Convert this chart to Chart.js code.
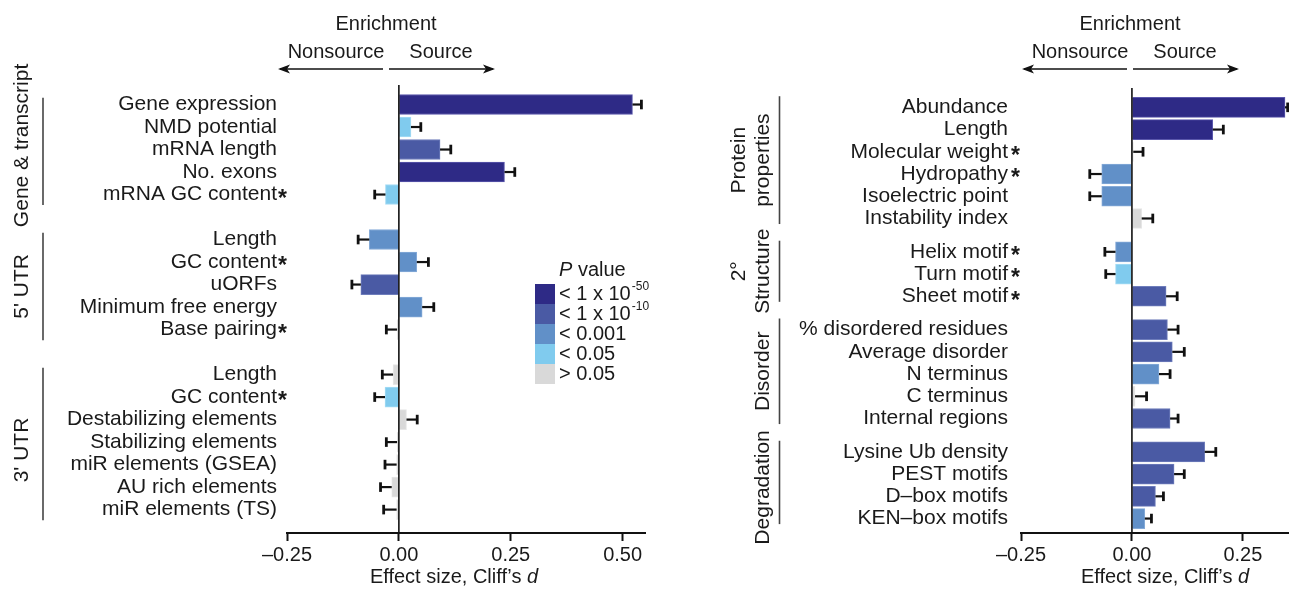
<!DOCTYPE html>
<html><head><meta charset="utf-8">
<script src="https://cdn.jsdelivr.net/npm/chart.js@4.4.1/dist/chart.umd.min.js"></script>
<style>
html,body{margin:0;padding:0;background:#fff;}
#wrap{position:relative;width:1289px;height:591px;overflow:hidden;background:#fff;}
canvas{position:absolute;top:0;}
</style></head><body>
<div id="wrap">
<canvas id="cl" width="680" height="591" style="left:0"></canvas>
<canvas id="cr" width="609" height="591" style="left:680px"></canvas>
</div>
<script>
// ---------- DATA ----------
const pColors = ['#2e2a86', '#4a5aa4', '#6190c8', '#80cbee', '#d9d9d9'];
const pEdge   = ['#5b58ac', '#6e7dbb', '#86abd8', '#a6dcf4', '#e6e6e6'];
const pLegendMain = ['< 1 x 10', '< 1 x 10', '< 0.001', '< 0.05', '> 0.05'];
const pLegendSup  = ['-50', '-10', '', '', ''];

const xTicks = [-0.25, 0, 0.25, 0.5];
const xTickLabelsLeft = ['\u20130.25', '0.00', '0.25', '0.50'];
const xTicksRight = [-0.25, 0, 0.25];
const xTickLabelsRight = ['\u20130.25', '0.00', '0.25'];

const leftGroups = [['Gene & transcript'], ["5' UTR"], ["3' UTR"]];
const leftGroupSizes = [5, 5, 7];
const leftLabels = ['Gene expression', 'NMD potential', 'mRNA length', 'No. exons', 'mRNA GC content',
  'Length', 'GC content', 'uORFs', 'Minimum free energy', 'Base pairing',
  'Length', 'GC content', 'Destabilizing elements', 'Stabilizing elements', 'miR elements (GSEA)', 'AU rich elements', 'miR elements (TS)'];
const leftStar = [0, 0, 0, 0, 1, 0, 1, 0, 0, 1, 0, 1, 0, 0, 0, 0, 0];
const leftValues = [0.522, 0.027, 0.092, 0.236, -0.030, -0.066, 0.040, -0.085, 0.052, -0.004,
  -0.013, -0.031, 0.017, -0.004, -0.005, -0.016, -0.005];
const leftErrors = [0.020, 0.022, 0.024, 0.023, 0.024, 0.025, 0.026, 0.020, 0.026, 0.024,
  0.024, 0.023, 0.024, 0.024, 0.026, 0.025, 0.029];
const leftP = [0, 3, 1, 0, 3, 2, 2, 1, 2, 4, 4, 3, 4, 4, 4, 4, 4];

const rightGroups = [['Protein', 'properties'], ['2\u00b0', 'Structure'], ['Disorder'], ['Degradation']];
const rightGroupSizes = [6, 3, 5, 4];
const rightLabels = ['Abundance', 'Length', 'Molecular weight', 'Hydropathy', 'Isoelectric point', 'Instability index',
  'Helix motif', 'Turn motif', 'Sheet motif',
  '% disordered residues', 'Average disorder', 'N terminus', 'C terminus', 'Internal regions',
  'Lysine Ub density', 'PEST motifs', 'D\u2013box motifs', 'KEN\u2013box motifs'];
const rightStar = [0, 0, 1, 1, 0, 0, 1, 1, 1, 0, 0, 0, 0, 0, 0, 0, 0, 0];
const rightValues = [0.345, 0.182, 0.003, -0.068, -0.068, 0.022, -0.037, -0.037, 0.077,
  0.080, 0.091, 0.061, 0.007, 0.086, 0.164, 0.095, 0.053, 0.029];
const rightErrors = [0.006, 0.024, 0.022, 0.027, 0.027, 0.025, 0.024, 0.022, 0.025,
  0.024, 0.027, 0.025, 0.026, 0.018, 0.025, 0.023, 0.018, 0.015];
const rightP = [0, 0, 4, 2, 2, 4, 2, 3, 1, 1, 1, 2, 4, 1, 1, 1, 1, 2];

// ---------- RENDER ----------
const FONT = "'Liberation Sans', Arial, Helvetica, sans-serif";
const TXT = '#1a1a1a';

function rowPositions(sizes, gap) {
  const pos = []; const spans = [];
  let r = 0;
  sizes.forEach((n) => {
    const start = r;
    for (let k = 0; k < n; k++) { pos.push(r); r++; }
    spans.push([start, r - 1]);
    r += gap;
  });
  return { pos, spans };
}

function arrow(ctx, x1, y, x2) {
  ctx.beginPath(); ctx.moveTo(x1, y); ctx.lineTo(x2, y); ctx.stroke();
  const d = x2 > x1 ? 1 : -1;
  ctx.beginPath();
  ctx.moveTo(x2 + d * 2, y);
  ctx.lineTo(x2 - d * 10, y - 4.5);
  ctx.lineTo(x2 - d * 7, y);
  ctx.lineTo(x2 - d * 10, y + 4.5);
  ctx.closePath(); ctx.fill();
}

function makeChart(id, o) {
  const { pos, spans } = rowPositions(o.sizes, o.gap);
  const overlay = {
    id: 'overlay_' + id,
    afterDatasetsDraw(chart) {
      const ctx = chart.ctx, xs = chart.scales.x, ys = chart.scales.y, ca = chart.chartArea;
      ctx.save();
      // zero line
      const x0 = xs.getPixelForValue(0);
      ctx.strokeStyle = '#111'; ctx.lineWidth = 1.6;
      ctx.beginPath(); ctx.moveTo(x0, ca.top); ctx.lineTo(x0, ca.bottom); ctx.stroke();
      // error bars
      ctx.strokeStyle = '#111'; ctx.fillStyle = '#111';
      o.values.forEach((v, i) => {
        const y = ys.getPixelForValue(pos[i]);
        const s = v >= 0 ? 1 : -1;
        const xa = xs.getPixelForValue(v), xb = xs.getPixelForValue(v + s * o.errors[i]);
        ctx.lineWidth = 2.2;
        ctx.beginPath(); ctx.moveTo(xa, y); ctx.lineTo(xb, y); ctx.stroke();
        ctx.lineWidth = 2.8;
        ctx.beginPath(); ctx.moveTo(xb, y - 4.8); ctx.lineTo(xb, y + 4.8); ctx.stroke();
      });
      // row labels
      ctx.fillStyle = TXT; ctx.textBaseline = 'middle';
      o.labels.forEach((t, i) => {
        const y = ys.getPixelForValue(pos[i]);
        ctx.font = '21px ' + FONT; ctx.textAlign = 'right';
        ctx.fillText(t, o.labelX, y);
        if (o.stars[i]) {
          ctx.font = 'bold 23px ' + FONT; ctx.textAlign = 'left';
          ctx.fillText('*', o.labelX + o.starGap, y + 5);
        }
      });
      // groups
      ctx.strokeStyle = '#444'; ctx.lineWidth = 1.6;
      spans.forEach((sp, g) => {
        const ya = ys.getPixelForValue(sp[0] + o.spanPad[0]);
        const yb = ys.getPixelForValue(sp[1] + o.spanPad[1]);
        ctx.beginPath(); ctx.moveTo(o.groupLineX, ya); ctx.lineTo(o.groupLineX, yb); ctx.stroke();
        const lines = o.groups[g];
        const yc = (ya + yb) / 2 + (o.groupShift ? o.groupShift[g] : 0);
        lines.forEach((t, k) => {
          const x = lines.length === 1 ? o.groupTextX[1] : o.groupTextX[k];
          ctx.save(); ctx.translate(x, yc); ctx.rotate(-Math.PI / 2);
          ctx.font = '21px ' + FONT; ctx.textAlign = 'center'; ctx.textBaseline = 'middle';
          ctx.fillStyle = TXT; ctx.fillText(t, 0, 0); ctx.restore();
        });
      });
      // header
      ctx.font = '20px ' + FONT; ctx.fillStyle = TXT; ctx.textAlign = 'center'; ctx.textBaseline = 'middle';
      const hc = o.headerX;
      ctx.fillText('Enrichment', hc, 24);
      ctx.fillText('Nonsource', hc - 50, 52);
      ctx.fillText('Source', hc + 55, 52);
      ctx.strokeStyle = '#111'; ctx.fillStyle = '#111'; ctx.lineWidth = 1.5;
      arrow(ctx, hc - 3, 69, hc - 106);
      arrow(ctx, hc + 3, 69, hc + 107);
      // axis title
      ctx.fillStyle = TXT; ctx.textBaseline = 'middle';
      const t1 = 'Effect size, Cliff\u2019s ';
      ctx.font = '20px ' + FONT; const w1 = ctx.measureText(t1).width;
      ctx.font = 'italic 20px ' + FONT; const w2 = ctx.measureText('d').width;
      const sx = o.titleX - (w1 + w2) / 2;
      ctx.textAlign = 'left';
      ctx.font = '20px ' + FONT; ctx.fillText(t1, sx, 577);
      ctx.font = 'italic 20px ' + FONT; ctx.fillText('d', sx + w1, 577);
      // legend
      if (o.legend) {
        const lx = 535, ly = 284;
        ctx.font = 'italic 20px ' + FONT; ctx.textAlign = 'left';
        const wp = ctx.measureText('P').width;
        ctx.fillText('P', 559, 270);
        ctx.font = '20px ' + FONT; ctx.fillText(' value', 559 + wp, 270);
        pColors.forEach((c, k) => {
          ctx.fillStyle = c; ctx.fillRect(lx, ly + k * 20, 20, 20);
          ctx.fillStyle = TXT; ctx.font = '20px ' + FONT;
          const yy = ly + k * 20 + 10;
          ctx.fillText(pLegendMain[k], 559, yy);
          if (pLegendSup[k]) {
            const wm = ctx.measureText(pLegendMain[k]).width;
            ctx.font = '12px ' + FONT; ctx.fillText(pLegendSup[k], 559 + wm + 1, yy - 7);
          }
        });
      }
      ctx.restore();
    }
  };
  return new Chart(document.getElementById(id), {
    type: 'bar',
    data: {
      datasets: [{
        data: o.values.map((v, i) => ({ x: v, y: pos[i] })),
        backgroundColor: o.p.map(k => pColors[k]),
        borderColor: o.p.map(k => pEdge[k]),
        borderWidth: 1,
        barThickness: 20
      }]
    },
    options: {
      indexAxis: 'y', responsive: false, animation: false,
      layout: { padding: o.padding },
      plugins: { legend: { display: false }, tooltip: { enabled: false } },
      scales: {
        y: { type: 'linear', reverse: true, min: o.yMin, max: o.yMax, offset: false, grace: 0, display: false },
        x: {
          type: 'linear', min: -0.25, max: o.xMax,
          afterBuildTicks: s => { s.ticks = o.ticks.map(v => ({ value: v })); },
          afterFit: s => { s.height = 58; },
          ticks: {
            callback: v => o.tickLabels[o.ticks.indexOf(v)],
            font: { family: FONT, size: 20 }, color: TXT, padding: 2, maxRotation: 0
          },
          grid: { drawOnChartArea: false, drawTicks: true, tickLength: 8, tickWidth: 2, tickColor: '#111' },
          border: { display: true, color: '#111', width: 2 }
        }
      }
    },
    plugins: [overlay]
  });
}

makeChart('cl', {
  labels: leftLabels, stars: leftStar, values: leftValues, errors: leftErrors, p: leftP,
  sizes: leftGroupSizes, gap: 1, groups: leftGroups,
  yMin: -0.867, yMax: 19.04, xMax: 0.55,
  ticks: xTicks, tickLabels: xTickLabelsLeft,
  padding: { left: 287, right: 35, top: 85, bottom: 0 },
  labelX: 277, starGap: 1, spanPad: [-0.3, 0.47],
  groupLineX: 43, groupTextX: [22, 22], groupShift: [-6, 0, 6],
  headerX: 386, titleX: 454, legend: true
});
makeChart('cr', {
  labels: rightLabels, stars: rightStar, values: rightValues, errors: rightErrors, p: rightP,
  sizes: rightGroupSizes, gap: 0.5, groups: rightGroups,
  yMin: -0.87, yMax: 19.15, xMax: 0.354,
  ticks: xTicksRight, tickLabels: xTickLabelsRight,
  padding: { left: 341, right: 0, top: 88, bottom: 0 },
  labelX: 328, starGap: 3, spanPad: [-0.5, 0.25],
  groupLineX: 99.5, groupTextX: [59, 83], groupShift: [0, 0, 0, 5],
  headerX: 450, titleX: 485, legend: false
});
</script>
</body></html>
